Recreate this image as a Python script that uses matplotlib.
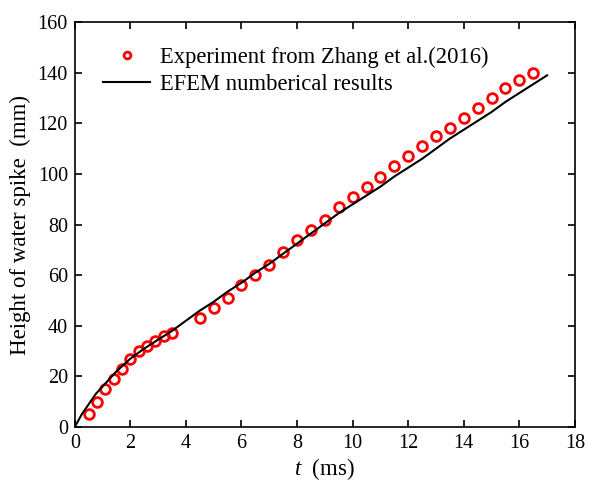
import matplotlib.pyplot as plt
from matplotlib.ticker import MultipleLocator

plt.rcParams["font.family"] = ["Liberation Serif", "DejaVu Serif"]
plt.rcParams["mathtext.fontset"] = "custom"
plt.rcParams["mathtext.it"] = "Liberation Serif:italic"
plt.rcParams["mathtext.rm"] = "Liberation Serif"

# experimental measurements (Zhang et al. 2016)
t_exp = [0.5, 0.8, 1.1, 1.4, 1.7, 2.0, 2.3, 2.6, 2.9, 3.2, 3.5,
         4.5, 5.0, 5.5, 6.0, 6.5, 7.0, 7.5, 8.0, 8.5, 9.0, 9.5, 10.0,
         10.5, 11.0, 11.5, 12.0, 12.5, 13.0, 13.5, 14.0, 14.5, 15.0,
         15.5, 16.0, 16.5]
h_exp = [5, 10, 15, 19, 23, 27, 30, 32, 34, 36, 37,
         43, 47, 51, 56, 60, 64, 69, 74, 78, 82, 87, 91,
         95, 99, 103, 107, 111, 115, 118, 122, 126, 130,
         134, 137, 140]

# EFEM simulation
t_num = [0.0, 0.25, 0.5, 0.75, 1.0, 1.5, 2.0, 2.5, 3.0, 3.5, 4.0, 4.5,
         5.0, 5.5, 6.0, 6.5, 7.0, 7.5, 8.0, 8.5, 9.0, 9.5, 10.0, 10.5,
         11.0, 11.5, 12.0, 12.5, 13.0, 13.5, 14.0, 14.5, 15.0, 15.5,
         16.0, 16.5, 17.0]
h_num = [0.0, 5.0, 9.0, 13.0, 16.0, 22.0, 27.0, 31.0, 34.5, 38.0, 42.0, 46.0,
         49.5, 53.5, 57.0, 61.0, 64.5, 68.5, 72.5, 76.5, 80.5, 84.5, 88.0, 91.5,
         95.0, 99.0, 102.5, 106.0, 110.0, 114.0, 117.5, 121.0, 124.5, 128.5,
         132.0, 135.5, 139.0]

fig = plt.figure(figsize=(5.89, 4.83), dpi=100)
ax = fig.add_axes([0.127, 0.116, 0.849, 0.838])

ax.plot(t_exp, h_exp, "o", ms=7, mfc="none", mec="red", mew=2,
        label="Experiment from Zhang et al.(2016)")
ax.plot(t_num, h_num, "-", color="black", lw=1.5,
        label="EFEM numberical results")

ax.set_xlim(0, 18)
ax.set_ylim(0, 160)
ax.xaxis.set_major_locator(MultipleLocator(2))
ax.yaxis.set_major_locator(MultipleLocator(20))
ax.tick_params(direction="in", top=True, right=True, length=5, width=1.2,
               labelsize=14.5, pad=5)
for s in ax.spines.values():
    s.set_linewidth(1.2)

ax.set_xlabel("$t$  (ms)", fontsize=16.5, labelpad=2)
ax.set_ylabel("Height of water spike  (mm)", fontsize=16.5, labelpad=5)

ax.legend(loc="upper left", frameon=False, fontsize=16.3,
          bbox_to_anchor=(0.02, 0.985), handlelength=2.1, markerscale=0.7,
          handletextpad=0.4, labelspacing=0.3, borderaxespad=0.4)

fig.savefig("out.png", dpi=100)
